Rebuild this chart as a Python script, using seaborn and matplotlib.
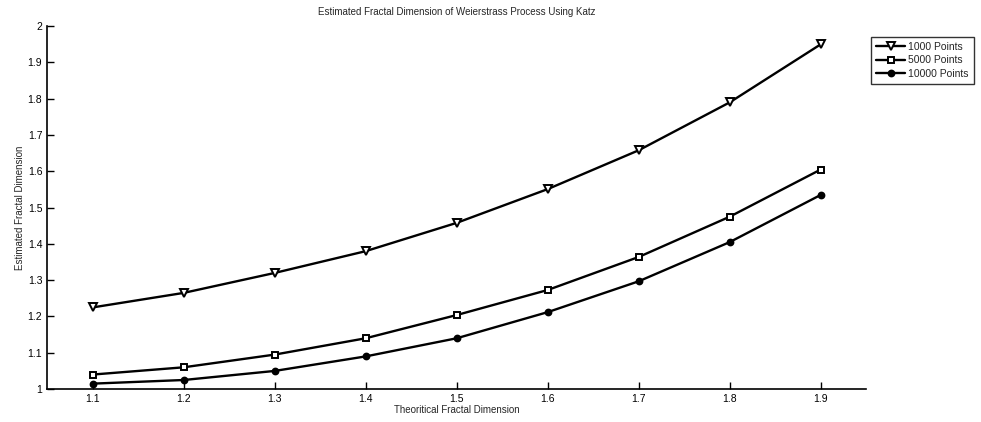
import matplotlib
matplotlib.use("Agg")
import matplotlib.pyplot as plt
from matplotlib.ticker import FormatStrFormatter, MultipleLocator
import seaborn as sns
import pandas as pd

theoretical = [1.1, 1.2, 1.3, 1.4, 1.5, 1.6, 1.7, 1.8, 1.9]
pts_1000 = [1.225, 1.265, 1.32, 1.38, 1.458, 1.551, 1.658, 1.79, 1.95]
pts_5000 = [1.04, 1.06, 1.095, 1.14, 1.204, 1.273, 1.364, 1.475, 1.605]
pts_10000 = [1.015, 1.025, 1.05, 1.09, 1.14, 1.212, 1.297, 1.405, 1.535]
labels = ["1000 Points", "5000 Points", "10000 Points"]

sns.set_style("ticks")
plt.rcParams['font.family'] = ['Liberation Sans', 'DejaVu Sans']

fig = plt.figure(figsize=(9.81, 4.22), dpi=100)
ax = fig.add_axes([0.048, 0.078, 0.835, 0.86])

styles = [("v", "white", 5.5), ("s", "white", 5), ("o", "black", 4.2)]
for vals, lab, (mk, fc, ms) in zip([pts_1000, pts_5000, pts_10000], labels, styles):
    df = pd.DataFrame({"x": theoretical, "y": vals})
    sns.lineplot(data=df, x="x", y="y", ax=ax, color="black", linewidth=1.7,
                 marker=mk, markersize=ms, markerfacecolor=fc,
                 markeredgecolor="black", markeredgewidth=1.4, label=lab)

ax.set_xlim(1.05, 1.95)
ax.set_ylim(1.0, 2.0)
ax.yaxis.set_major_locator(MultipleLocator(0.1))
ax.xaxis.set_major_formatter(FormatStrFormatter('%g'))
ax.yaxis.set_major_formatter(FormatStrFormatter('%g'))
ax.set_xticks(theoretical)
ax.tick_params(direction="in", length=5, width=1, labelsize=7.5, colors="black")
for s in ["top", "right"]:
    ax.spines[s].set_visible(False)
for s in ["left", "bottom"]:
    ax.spines[s].set_linewidth(1.2)
    ax.spines[s].set_color("black")

ax.set_title("Estimated Fractal Dimension of Weierstrass Process Using Katz", fontsize=7, pad=8)
ax.set_xlabel("Theoritical Fractal Dimension", fontsize=7, labelpad=1)
ax.set_ylabel("Estimated Fractal Dimension", fontsize=7, labelpad=2)

leg = ax.legend(loc="upper left", bbox_to_anchor=(0.883, 0.925), bbox_transform=fig.transFigure,
                fontsize=7.5, frameon=True, fancybox=False, edgecolor="black",
                handlelength=2.8, borderpad=0.45, labelspacing=0.35, handletextpad=0.3)
leg.get_frame().set_linewidth(1.0)

fig.savefig("out.png", dpi=100)
